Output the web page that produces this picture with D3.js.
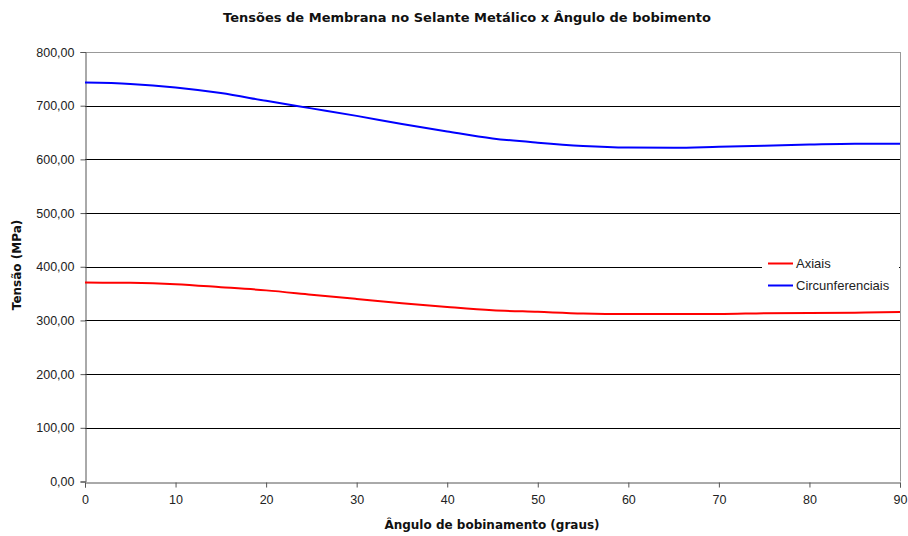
<!DOCTYPE html>
<html><head><meta charset="utf-8">
<script src="https://cdn.jsdelivr.net/npm/d3@7"></script>
<style>body{margin:0;background:#fff}svg{display:block}text{font-family:"Liberation Sans",Arial,sans-serif}</style>
</head><body><svg id="c" width="908" height="536"></svg>
<script>
const angles = [0,5,10,15,20,25,30,35,40,45,50,55,60,65,70,75,80,85,90];
const axiais = [370.5,370,367.5,362,356,348,340,332,325,319,316,313,312,312,312,313.5,314,314.5,315.5];
const circunf = [743,740.5,734,723.5,709,695,681,666,652,639,631,625,622,621.5,623.5,625.5,627.5,629,629];
const yTicks = [0,100,200,300,400,500,600,700,800];
const xTicks = [0,10,20,30,40,50,60,70,80,90];
const seriesNames = ["Axiais","Circunferenciais"];
const colors = ["#ff0000","#0000ff"];

const svg = d3.select("#c");
const L=85,R=900,T=52,B=481.5;
const x = d3.scaleLinear().domain([0,90]).range([L,R]);
const y = d3.scaleLinear().domain([0,800]).range([B,T]);
const bold = '"DejaVu Sans",Verdana,sans-serif';

// gridlines
svg.append("g").selectAll("line").data(yTicks.filter(d=>d>0&&d<800)).join("line")
  .attr("x1",L).attr("x2",R).attr("y1",d=>Math.round(y(d))+0.5).attr("y2",d=>Math.round(y(d))+0.5)
  .attr("stroke","#000").attr("stroke-width",1);
// top & right border
svg.append("line").attr("x1",L).attr("x2",R).attr("y1",T+0.5).attr("y2",T+0.5).attr("stroke","#999");
svg.append("line").attr("x1",R+0.5).attr("x2",R+0.5).attr("y1",T).attr("y2",B).attr("stroke","#999");

// axes
const fmt = d=>d3.format(".2f")(d).replace(".",",");
const ya = svg.append("g").attr("transform",`translate(${L+0.5},0)`)
  .call(d3.axisLeft(y).tickValues(yTicks).tickFormat(fmt).tickSize(5).tickPadding(6));
const xa = svg.append("g").attr("transform",`translate(0,${Math.round(B)+0.5})`)
  .call(d3.axisBottom(x).tickValues(xTicks).tickFormat(d3.format("d")).tickSize(5).tickPadding(6));
[ya,xa].forEach(g=>{
  g.select(".domain").attr("stroke","#555");
  g.selectAll(".tick line").attr("stroke","#555");
  g.selectAll(".tick text").attr("fill","#222").style("font-size","12.5px").style("font-family",'"Liberation Sans",Arial,sans-serif');
});
xa.selectAll(".tick text").attr("dy","0.85em");

// lines
const line = d3.line().x((d,i)=>x(angles[i])).y(d=>y(d)).curve(d3.curveMonotoneX);
[axiais,circunf].forEach((s,i)=>{
  svg.append("path").datum(s).attr("d",line).attr("fill","none")
    .attr("stroke",colors[i]).attr("stroke-width",2);
});

// legend
svg.append("rect").attr("x",762).attr("y",254).attr("width",137).attr("height",42).attr("fill","#fff");
seriesNames.forEach((n,i)=>{
  const yy = 263.5 + i*22;
  svg.append("line").attr("x1",768).attr("x2",793).attr("y1",yy).attr("y2",yy)
    .attr("stroke",colors[i]).attr("stroke-width",2);
  svg.append("text").attr("x",796).attr("y",yy).attr("dy","0.35em")
    .style("font-size","13px").attr("fill","#222").text(n);
});

// titles
svg.append("text").attr("x",467).attr("y",22).attr("text-anchor","middle")
  .style("font-size","13px").style("font-weight","bold").style("font-family",bold).attr("fill","#111")
  .text("Tensões de Membrana no Selante Metálico x Ângulo de bobimento");
svg.append("text").attr("x",492).attr("y",529).attr("text-anchor","middle")
  .style("font-size","12px").style("font-weight","bold").style("font-family",bold).attr("fill","#111")
  .text("Ângulo de bobinamento (graus)");
svg.append("text").attr("transform","translate(21,265) rotate(-90)").attr("text-anchor","middle")
  .style("font-size","12px").style("font-weight","bold").style("font-family",bold).attr("fill","#111")
  .text("Tensão (MPa)");
</script></body></html>
